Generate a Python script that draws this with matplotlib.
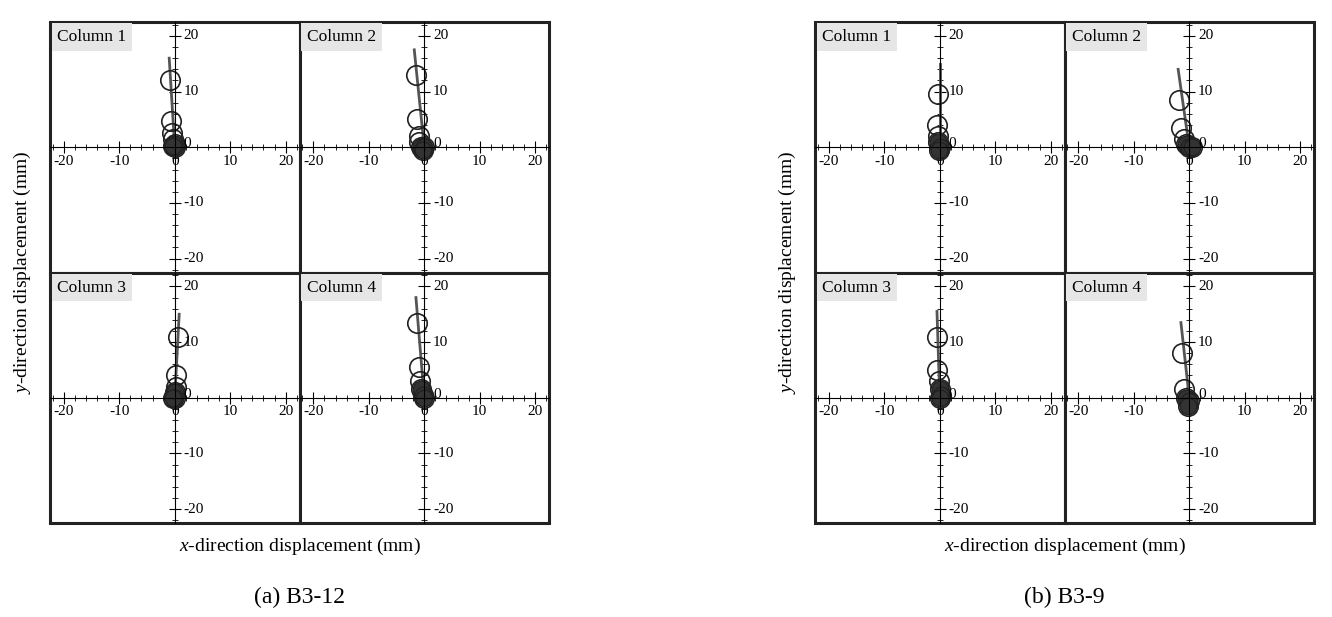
import matplotlib.pyplot as plt
import numpy as np

plt.rcParams["font.family"] = "Liberation Serif"
plt.rcParams["axes.unicode_minus"] = False
plt.rcParams["mathtext.fontset"] = "custom"
plt.rcParams["mathtext.it"] = "Liberation Serif:italic"
plt.rcParams["mathtext.rm"] = "Liberation Serif"

titles = ["Column 1", "Column 2", "Column 3", "Column 4"]
captions = ["(a) B3-12", "(b) B3-9"]
tick_vals = [-20, -10, 0, 10, 20]

# gray trace end point (top) for each panel, starting at origin
trace_b312 = [(-1.0, 16.0), (-1.8, 17.5), (0.8, 15.0), (-1.5, 18.0)]
trace_b39 = [(0.0, 15.0), (-2.0, 14.0), (-0.5, 15.5), (-1.5, 13.5)]

# circle markers (x, y) per panel
pts_b312 = [
    [(-0.8, 12), (-0.7, 4.8), (-0.5, 2.5), (-0.3, 1.5), (0, 0.5), (0, 0), (-0.3, 0.2)],
    [(-1.5, 13), (-1.3, 5), (-1.0, 2), (-0.9, 1), (-0.5, 0), (0, 0), (-0.3, -0.5)],
    [(0.5, 11), (0.3, 4), (0.3, 2), (0.1, 1), (0, 0), (-0.3, 0)],
    [(-1.3, 13.5), (-1.0, 5.5), (-0.8, 3), (-0.5, 1.5), (-0.3, 0.5), (0, 0)],
]
pts_b39 = [
    [(-0.3, 9.5), (-0.5, 4), (-0.3, 2), (-0.3, 1), (0, 0), (-0.2, -0.5)],
    [(-1.8, 8.5), (-1.5, 3.5), (-1.0, 1.5), (-0.6, 0.5), (0, 0), (0.5, 0)],
    [(-0.5, 11), (-0.5, 5), (-0.2, 3), (0, 1.5), (0.2, 0.5), (0, 0)],
    [(-1.3, 8), (-1.0, 1.5), (-0.5, 0), (0, -0.5), (-0.3, -1.5)],
]

W, H = 1332, 617
fig = plt.figure(figsize=(W / 100, H / 100), dpi=100)


def draw_group(x0, traces, pts, caption):
    pw, ph = 249.5, 250.5
    top = 22
    for k in range(4):
        r, c = divmod(k, 2)
        left = x0 + c * pw
        bot = H - (top + (r + 1) * ph)
        ax = fig.add_axes([left / W, bot / H, pw / W, ph / H])
        ax.set_xlim(-22.5, 22.5)
        ax.set_ylim(-22.5, 22.5)
        ax.spines["left"].set_position("zero")
        ax.spines["bottom"].set_position("zero")
        ax.spines["left"].set_linewidth(0.8)
        ax.spines["bottom"].set_linewidth(0.8)
        for s in ["top", "right"]:
            ax.spines[s].set_visible(False)
        ax.set_xticks(tick_vals)
        ax.set_yticks(tick_vals)
        ax.set_xticks(np.arange(-22, 23, 2), minor=True)
        ax.set_yticks(np.arange(-22, 23, 2), minor=True)
        ax.tick_params(which="major", direction="inout", length=9, width=0.8,
                       labelsize=11, pad=1)
        ax.tick_params(which="minor", direction="inout", length=5, width=0.6)
        ax.tick_params(axis="y", labelleft=False)
        for v in tick_vals:
            ax.text(1.6, v + (0.6 if v == 0 else 0), str(v), fontsize=11,
                    ha="left", va="center")
        tx, ty = traces[k]
        ax.plot([0, tx * 0.5, tx], [0, ty * 0.5, ty], color="#555555", lw=2)
        px = [p[0] for p in pts[k]]
        py = [p[1] for p in pts[k]]
        ax.plot(px, py, "o", mfc="none", mec="#222222", ms=14, mew=1.2)
        ax.plot(px[-3:], py[-3:], "o", mfc="#333333", mec="#222222", ms=12)
        ax.text(0.03, 0.94, titles[k], transform=ax.transAxes, fontsize=12.5,
                va="center", ha="left",
                bbox=dict(facecolor="#e6e6e6", edgecolor="none", pad=4))
        ax.add_patch(plt.Rectangle((0, 0), 1, 1, transform=ax.transAxes,
                                   fill=False, lw=2.2, ec="#222222", clip_on=False))
    cx = (x0 + pw) / W
    fig.text(cx, 1 - 546 / H, "$x$-direction displacement (mm)", ha="center",
             va="center", fontsize=14)
    fig.text(cx, 1 - 597 / H, caption, ha="center", va="center", fontsize=17)
    fig.text((x0 - 28) / W, 1 - (top + ph) / H, "$y$-direction displacement (mm)",
             rotation=90, ha="center", va="center", fontsize=14)


draw_group(50, trace_b312, pts_b312, captions[0])
draw_group(815, trace_b39, pts_b39, captions[1])

fig.savefig("out.png", dpi=100)
